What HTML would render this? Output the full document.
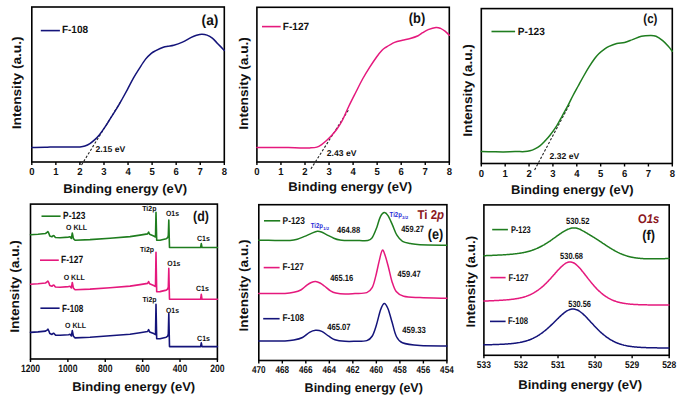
<!DOCTYPE html>
<html><head><meta charset="utf-8"><style>
html,body{margin:0;padding:0;background:#fff;}
body{width:685px;height:402px;overflow:hidden;}
svg{display:block;}
text{font-family:"Liberation Sans", sans-serif;text-rendering:geometricPrecision;}
</style></head><body>
<svg width="685" height="402" viewBox="0 0 685 402" font-family='"Liberation Sans", sans-serif'>
<rect width="685" height="402" fill="#fff"/>
<rect x="31.80" y="7.00" width="192.50" height="155.00" fill="none" stroke="#000" stroke-width="1.60"/>
<path d="M31.80,162.00v3.00M55.86,162.00v3.00M79.92,162.00v3.00M103.99,162.00v3.00M128.05,162.00v3.00M152.11,162.00v3.00M176.18,162.00v3.00M200.24,162.00v3.00M224.30,162.00v3.00" stroke="#000" stroke-width="1.40" fill="none"/>
<text x="31.80" y="175.20" font-size="10.10" font-weight="bold" font-style="normal" text-anchor="middle" fill="#111" textLength="5.30" lengthAdjust="spacingAndGlyphs">0</text>
<text x="55.86" y="175.20" font-size="10.10" font-weight="bold" font-style="normal" text-anchor="middle" fill="#111" textLength="5.30" lengthAdjust="spacingAndGlyphs">1</text>
<text x="79.92" y="175.20" font-size="10.10" font-weight="bold" font-style="normal" text-anchor="middle" fill="#111" textLength="5.30" lengthAdjust="spacingAndGlyphs">2</text>
<text x="103.99" y="175.20" font-size="10.10" font-weight="bold" font-style="normal" text-anchor="middle" fill="#111" textLength="5.30" lengthAdjust="spacingAndGlyphs">3</text>
<text x="128.05" y="175.20" font-size="10.10" font-weight="bold" font-style="normal" text-anchor="middle" fill="#111" textLength="5.30" lengthAdjust="spacingAndGlyphs">4</text>
<text x="152.11" y="175.20" font-size="10.10" font-weight="bold" font-style="normal" text-anchor="middle" fill="#111" textLength="5.30" lengthAdjust="spacingAndGlyphs">5</text>
<text x="176.18" y="175.20" font-size="10.10" font-weight="bold" font-style="normal" text-anchor="middle" fill="#111" textLength="5.30" lengthAdjust="spacingAndGlyphs">6</text>
<text x="200.24" y="175.20" font-size="10.10" font-weight="bold" font-style="normal" text-anchor="middle" fill="#111" textLength="5.30" lengthAdjust="spacingAndGlyphs">7</text>
<text x="224.30" y="175.20" font-size="10.10" font-weight="bold" font-style="normal" text-anchor="middle" fill="#111" textLength="5.30" lengthAdjust="spacingAndGlyphs">8</text>
<text x="63.30" y="192.60" font-size="12.60" font-weight="bold" font-style="normal" text-anchor="start" fill="#111" textLength="123.70" lengthAdjust="spacingAndGlyphs">Binding energy (eV)</text>
<text transform="translate(20.90,129.20) rotate(-90)" font-size="12.60" font-weight="bold" fill="#111" textLength="92.80" lengthAdjust="spacingAndGlyphs">Intensity (a.u.)</text>
<line x1="40.80" y1="30.60" x2="59.90" y2="30.60" stroke="#14147a" stroke-width="1.60"/>
<text x="61.90" y="33.40" font-size="10.50" font-weight="bold" font-style="normal" text-anchor="start" fill="#111" textLength="26.20" lengthAdjust="spacingAndGlyphs">F-108</text>
<text x="201.60" y="25.10" font-size="14.40" font-weight="bold" font-style="normal" text-anchor="start" fill="#111" textLength="16.80" lengthAdjust="spacingAndGlyphs">(a)</text>
<line x1="81.50" y1="165.00" x2="121.50" y2="100.30" stroke="#222" stroke-width="1.10" stroke-dasharray="2.4,1.8"/>
<path d="M31.80,147.40 C34.00,147.38 41.13,147.38 45.00,147.30 C48.87,147.22 51.67,146.93 55.00,146.90 C58.33,146.87 61.67,147.08 65.00,147.10 C68.33,147.12 72.52,147.03 75.00,147.00 C77.48,146.97 78.25,147.07 79.90,146.90 C81.55,146.73 83.23,146.55 84.90,146.00 C86.57,145.45 88.25,144.67 89.90,143.60 C91.55,142.53 93.23,141.03 94.80,139.60 C96.37,138.17 97.62,137.07 99.30,135.00 C100.98,132.93 102.93,130.15 104.90,127.20 C106.87,124.25 109.02,120.60 111.10,117.30 C113.18,114.00 115.55,110.45 117.40,107.40 C119.25,104.35 120.52,102.02 122.20,99.00 C123.88,95.98 125.63,92.78 127.50,89.30 C129.37,85.82 131.42,81.58 133.40,78.10 C135.38,74.62 137.40,71.52 139.40,68.40 C141.40,65.28 143.42,61.90 145.40,59.40 C147.38,56.90 149.57,54.85 151.30,53.40 C153.03,51.95 153.80,51.73 155.80,50.70 C157.80,49.67 161.27,47.95 163.30,47.20 C165.33,46.45 166.25,46.52 168.00,46.20 C169.75,45.88 171.38,45.98 173.80,45.30 C176.22,44.62 179.58,43.43 182.50,42.10 C185.42,40.77 188.97,38.43 191.30,37.30 C193.63,36.17 194.75,35.82 196.50,35.30 C198.25,34.78 200.05,34.23 201.80,34.20 C203.55,34.17 205.25,34.45 207.00,35.10 C208.75,35.75 210.55,36.72 212.30,38.10 C214.05,39.48 215.50,41.35 217.50,43.40 C219.50,45.45 223.17,49.23 224.30,50.40" fill="none" stroke="#14147a" stroke-width="1.50" stroke-linejoin="round" stroke-linecap="round"/>
<text x="95.50" y="152.20" font-size="8.50" font-weight="bold" font-style="normal" text-anchor="start" fill="#111" textLength="29.70" lengthAdjust="spacingAndGlyphs">2.15 eV</text>
<rect x="256.90" y="7.30" width="192.40" height="154.70" fill="none" stroke="#000" stroke-width="1.60"/>
<path d="M256.90,162.00v3.00M280.95,162.00v3.00M305.00,162.00v3.00M329.05,162.00v3.00M353.10,162.00v3.00M377.15,162.00v3.00M401.20,162.00v3.00M425.25,162.00v3.00M449.30,162.00v3.00" stroke="#000" stroke-width="1.40" fill="none"/>
<text x="256.90" y="175.00" font-size="10.10" font-weight="bold" font-style="normal" text-anchor="middle" fill="#111" textLength="5.30" lengthAdjust="spacingAndGlyphs">0</text>
<text x="280.95" y="175.00" font-size="10.10" font-weight="bold" font-style="normal" text-anchor="middle" fill="#111" textLength="5.30" lengthAdjust="spacingAndGlyphs">1</text>
<text x="305.00" y="175.00" font-size="10.10" font-weight="bold" font-style="normal" text-anchor="middle" fill="#111" textLength="5.30" lengthAdjust="spacingAndGlyphs">2</text>
<text x="329.05" y="175.00" font-size="10.10" font-weight="bold" font-style="normal" text-anchor="middle" fill="#111" textLength="5.30" lengthAdjust="spacingAndGlyphs">3</text>
<text x="353.10" y="175.00" font-size="10.10" font-weight="bold" font-style="normal" text-anchor="middle" fill="#111" textLength="5.30" lengthAdjust="spacingAndGlyphs">4</text>
<text x="377.15" y="175.00" font-size="10.10" font-weight="bold" font-style="normal" text-anchor="middle" fill="#111" textLength="5.30" lengthAdjust="spacingAndGlyphs">5</text>
<text x="401.20" y="175.00" font-size="10.10" font-weight="bold" font-style="normal" text-anchor="middle" fill="#111" textLength="5.30" lengthAdjust="spacingAndGlyphs">6</text>
<text x="425.25" y="175.00" font-size="10.10" font-weight="bold" font-style="normal" text-anchor="middle" fill="#111" textLength="5.30" lengthAdjust="spacingAndGlyphs">7</text>
<text x="449.30" y="175.00" font-size="10.10" font-weight="bold" font-style="normal" text-anchor="middle" fill="#111" textLength="5.30" lengthAdjust="spacingAndGlyphs">8</text>
<text x="288.30" y="190.90" font-size="12.60" font-weight="bold" font-style="normal" text-anchor="start" fill="#111" textLength="123.80" lengthAdjust="spacingAndGlyphs">Binding energy (eV)</text>
<text transform="translate(248.30,129.70) rotate(-90)" font-size="12.60" font-weight="bold" fill="#111" textLength="92.60" lengthAdjust="spacingAndGlyphs">Intensity (a.u.)</text>
<line x1="262.00" y1="26.60" x2="280.70" y2="26.60" stroke="#e5197d" stroke-width="1.60"/>
<text x="282.80" y="29.80" font-size="10.50" font-weight="bold" font-style="normal" text-anchor="start" fill="#111" textLength="26.30" lengthAdjust="spacingAndGlyphs">F-127</text>
<text x="408.80" y="22.90" font-size="14.40" font-weight="bold" font-style="normal" text-anchor="start" fill="#111" textLength="16.40" lengthAdjust="spacingAndGlyphs">(b)</text>
<line x1="310.90" y1="168.90" x2="348.50" y2="109.90" stroke="#222" stroke-width="1.10" stroke-dasharray="2.4,1.8"/>
<path d="M256.90,147.50 C259.42,147.52 266.77,147.58 272.00,147.60 C277.23,147.62 283.63,147.53 288.30,147.60 C292.97,147.67 296.40,147.95 300.00,148.00 C303.60,148.05 307.08,148.05 309.90,147.90 C312.72,147.75 314.90,147.70 316.90,147.10 C318.90,146.50 320.25,145.43 321.90,144.30 C323.55,143.17 325.15,141.82 326.80,140.30 C328.45,138.78 330.13,137.05 331.80,135.20 C333.47,133.35 335.10,131.57 336.80,129.20 C338.50,126.83 340.02,124.78 342.00,121.00 C343.98,117.22 346.42,111.25 348.70,106.50 C350.98,101.75 353.38,97.08 355.70,92.50 C358.02,87.92 360.28,83.18 362.60,79.00 C364.92,74.82 367.27,71.07 369.60,67.40 C371.93,63.73 374.57,59.82 376.60,57.00 C378.63,54.18 380.30,52.08 381.80,50.50 C383.30,48.92 383.47,48.85 385.60,47.50 C387.73,46.15 391.80,43.62 394.60,42.40 C397.40,41.18 399.80,40.85 402.40,40.20 C405.00,39.55 407.58,39.25 410.20,38.50 C412.82,37.75 416.03,36.67 418.10,35.70 C420.17,34.73 420.92,33.72 422.60,32.70 C424.28,31.68 425.97,30.47 428.20,29.60 C430.43,28.73 433.95,27.70 436.00,27.50 C438.05,27.30 439.00,27.78 440.50,28.40 C442.00,29.02 443.53,30.07 445.00,31.20 C446.47,32.33 448.58,34.53 449.30,35.20" fill="none" stroke="#e5197d" stroke-width="1.50" stroke-linejoin="round" stroke-linecap="round"/>
<text x="326.80" y="156.00" font-size="8.50" font-weight="bold" font-style="normal" text-anchor="start" fill="#111" textLength="29.60" lengthAdjust="spacingAndGlyphs">2.43 eV</text>
<rect x="481.30" y="8.60" width="191.00" height="154.90" fill="none" stroke="#000" stroke-width="1.60"/>
<path d="M481.30,163.50v3.00M505.18,163.50v3.00M529.05,163.50v3.00M552.92,163.50v3.00M576.80,163.50v3.00M600.67,163.50v3.00M624.55,163.50v3.00M648.42,163.50v3.00M672.30,163.50v3.00" stroke="#000" stroke-width="1.40" fill="none"/>
<text x="481.30" y="176.70" font-size="10.10" font-weight="bold" font-style="normal" text-anchor="middle" fill="#111" textLength="5.30" lengthAdjust="spacingAndGlyphs">0</text>
<text x="505.18" y="176.70" font-size="10.10" font-weight="bold" font-style="normal" text-anchor="middle" fill="#111" textLength="5.30" lengthAdjust="spacingAndGlyphs">1</text>
<text x="529.05" y="176.70" font-size="10.10" font-weight="bold" font-style="normal" text-anchor="middle" fill="#111" textLength="5.30" lengthAdjust="spacingAndGlyphs">2</text>
<text x="552.92" y="176.70" font-size="10.10" font-weight="bold" font-style="normal" text-anchor="middle" fill="#111" textLength="5.30" lengthAdjust="spacingAndGlyphs">3</text>
<text x="576.80" y="176.70" font-size="10.10" font-weight="bold" font-style="normal" text-anchor="middle" fill="#111" textLength="5.30" lengthAdjust="spacingAndGlyphs">4</text>
<text x="600.67" y="176.70" font-size="10.10" font-weight="bold" font-style="normal" text-anchor="middle" fill="#111" textLength="5.30" lengthAdjust="spacingAndGlyphs">5</text>
<text x="624.55" y="176.70" font-size="10.10" font-weight="bold" font-style="normal" text-anchor="middle" fill="#111" textLength="5.30" lengthAdjust="spacingAndGlyphs">6</text>
<text x="648.42" y="176.70" font-size="10.10" font-weight="bold" font-style="normal" text-anchor="middle" fill="#111" textLength="5.30" lengthAdjust="spacingAndGlyphs">7</text>
<text x="672.30" y="176.70" font-size="10.10" font-weight="bold" font-style="normal" text-anchor="middle" fill="#111" textLength="5.30" lengthAdjust="spacingAndGlyphs">8</text>
<text x="511.10" y="193.80" font-size="12.60" font-weight="bold" font-style="normal" text-anchor="start" fill="#111" textLength="122.60" lengthAdjust="spacingAndGlyphs">Binding energy (eV)</text>
<text transform="translate(471.80,136.70) rotate(-90)" font-size="12.60" font-weight="bold" fill="#111" textLength="92.60" lengthAdjust="spacingAndGlyphs">Intensity (a.u.)</text>
<line x1="491.50" y1="31.50" x2="515.10" y2="31.50" stroke="#1f7d1f" stroke-width="1.60"/>
<text x="517.80" y="35.40" font-size="10.50" font-weight="bold" font-style="normal" text-anchor="start" fill="#111" textLength="27.00" lengthAdjust="spacingAndGlyphs">P-123</text>
<text x="643.30" y="23.40" font-size="13.00" font-weight="bold" font-style="normal" text-anchor="start" fill="#111" textLength="14.10" lengthAdjust="spacingAndGlyphs">(c)</text>
<line x1="534.60" y1="170.00" x2="569.50" y2="104.40" stroke="#222" stroke-width="1.10" stroke-dasharray="2.4,1.8"/>
<path d="M481.30,151.50 C483.08,151.53 488.32,151.63 492.00,151.70 C495.68,151.77 499.57,151.92 503.40,151.90 C507.23,151.88 511.42,151.65 515.00,151.60 C518.58,151.55 522.42,151.73 524.90,151.60 C527.38,151.47 528.23,151.27 529.90,150.80 C531.57,150.33 533.23,149.63 534.90,148.80 C536.57,147.97 538.25,147.08 539.90,145.80 C541.55,144.52 543.15,142.82 544.80,141.10 C546.45,139.38 547.82,138.03 549.80,135.50 C551.78,132.97 554.62,129.18 556.70,125.90 C558.78,122.62 560.43,119.17 562.30,115.80 C564.17,112.43 566.12,109.08 567.90,105.70 C569.68,102.32 571.28,98.78 573.00,95.50 C574.72,92.22 576.42,89.25 578.20,86.00 C579.98,82.75 581.87,79.22 583.70,76.00 C585.53,72.78 587.37,69.62 589.20,66.70 C591.03,63.78 593.10,60.67 594.70,58.50 C596.30,56.33 597.22,55.22 598.80,53.70 C600.38,52.18 602.50,50.62 604.20,49.40 C605.90,48.18 606.90,47.38 609.00,46.40 C611.10,45.42 614.20,44.17 616.80,43.50 C619.40,42.83 621.98,43.05 624.60,42.40 C627.22,41.75 629.70,40.63 632.50,39.60 C635.30,38.57 638.42,36.90 641.40,36.20 C644.38,35.50 647.97,35.40 650.40,35.40 C652.83,35.40 653.95,35.32 656.00,36.20 C658.05,37.08 660.65,39.02 662.70,40.70 C664.75,42.38 666.70,44.53 668.30,46.30 C669.90,48.07 671.63,50.47 672.30,51.30" fill="none" stroke="#1f7d1f" stroke-width="1.50" stroke-linejoin="round" stroke-linecap="round"/>
<text x="549.60" y="158.90" font-size="8.50" font-weight="bold" font-style="normal" text-anchor="start" fill="#111" textLength="29.60" lengthAdjust="spacingAndGlyphs">2.32 eV</text>
<rect x="30.50" y="204.10" width="186.90" height="154.90" fill="none" stroke="#000" stroke-width="1.60"/>
<path d="M30.50,359.00v3.00M67.88,359.00v3.00M105.26,359.00v3.00M142.64,359.00v3.00M180.02,359.00v3.00M217.40,359.00v3.00" stroke="#000" stroke-width="1.40" fill="none"/>
<text x="30.50" y="372.30" font-size="10.60" font-weight="bold" font-style="normal" text-anchor="middle" fill="#111" textLength="19.20" lengthAdjust="spacingAndGlyphs">1200</text>
<text x="67.88" y="372.30" font-size="10.60" font-weight="bold" font-style="normal" text-anchor="middle" fill="#111" textLength="19.20" lengthAdjust="spacingAndGlyphs">1000</text>
<text x="105.26" y="372.30" font-size="10.60" font-weight="bold" font-style="normal" text-anchor="middle" fill="#111" textLength="14.40" lengthAdjust="spacingAndGlyphs">800</text>
<text x="142.64" y="372.30" font-size="10.60" font-weight="bold" font-style="normal" text-anchor="middle" fill="#111" textLength="14.40" lengthAdjust="spacingAndGlyphs">600</text>
<text x="180.02" y="372.30" font-size="10.60" font-weight="bold" font-style="normal" text-anchor="middle" fill="#111" textLength="14.40" lengthAdjust="spacingAndGlyphs">400</text>
<text x="217.40" y="372.30" font-size="10.60" font-weight="bold" font-style="normal" text-anchor="middle" fill="#111" textLength="14.40" lengthAdjust="spacingAndGlyphs">200</text>
<text x="72.20" y="391.00" font-size="12.60" font-weight="bold" font-style="normal" text-anchor="start" fill="#111" textLength="123.00" lengthAdjust="spacingAndGlyphs">Binding energy (eV)</text>
<text transform="translate(18.70,332.80) rotate(-90)" font-size="12.60" font-weight="bold" fill="#111" textLength="92.70" lengthAdjust="spacingAndGlyphs">Intensity (a.u.)</text>
<line x1="41.50" y1="216.20" x2="60.60" y2="216.20" stroke="#1f7d1f" stroke-width="1.60"/>
<text x="63.10" y="219.40" font-size="10.40" font-weight="bold" font-style="normal" text-anchor="start" fill="#111" textLength="22.30" lengthAdjust="spacingAndGlyphs">P-123</text>
<line x1="40.00" y1="260.20" x2="58.80" y2="260.20" stroke="#e5197d" stroke-width="1.60"/>
<text x="61.10" y="263.40" font-size="10.40" font-weight="bold" font-style="normal" text-anchor="start" fill="#111" textLength="22.00" lengthAdjust="spacingAndGlyphs">F-127</text>
<line x1="40.40" y1="308.20" x2="59.60" y2="308.20" stroke="#14147a" stroke-width="1.60"/>
<text x="62.10" y="311.60" font-size="10.40" font-weight="bold" font-style="normal" text-anchor="start" fill="#111" textLength="21.20" lengthAdjust="spacingAndGlyphs">F-108</text>
<text x="193.00" y="221.20" font-size="14.20" font-weight="bold" font-style="normal" text-anchor="start" fill="#111" textLength="15.90" lengthAdjust="spacingAndGlyphs">(d)</text>
<text x="66.10" y="230.30" font-size="7.60" font-weight="bold" font-style="normal" text-anchor="start" fill="#111" textLength="21.00" lengthAdjust="spacingAndGlyphs">O KLL</text>
<text x="142.20" y="211.30" font-size="7.40" font-weight="bold" font-style="normal" text-anchor="start" fill="#111" textLength="14.20" lengthAdjust="spacingAndGlyphs">Ti2p</text>
<text x="166.00" y="215.90" font-size="7.60" font-weight="bold" font-style="normal" text-anchor="start" fill="#111" textLength="13.00" lengthAdjust="spacingAndGlyphs">O1s</text>
<text x="196.90" y="241.10" font-size="7.60" font-weight="bold" font-style="normal" text-anchor="start" fill="#111" textLength="12.90" lengthAdjust="spacingAndGlyphs">C1s</text>
<text x="63.70" y="279.80" font-size="7.60" font-weight="bold" font-style="normal" text-anchor="start" fill="#111" textLength="21.00" lengthAdjust="spacingAndGlyphs">O KLL</text>
<text x="139.90" y="251.80" font-size="7.40" font-weight="bold" font-style="normal" text-anchor="start" fill="#111" textLength="14.20" lengthAdjust="spacingAndGlyphs">Ti2p</text>
<text x="167.30" y="266.20" font-size="7.60" font-weight="bold" font-style="normal" text-anchor="start" fill="#111" textLength="13.00" lengthAdjust="spacingAndGlyphs">O1s</text>
<text x="195.90" y="291.40" font-size="7.60" font-weight="bold" font-style="normal" text-anchor="start" fill="#111" textLength="12.90" lengthAdjust="spacingAndGlyphs">C1s</text>
<text x="65.10" y="327.90" font-size="7.60" font-weight="bold" font-style="normal" text-anchor="start" fill="#111" textLength="21.00" lengthAdjust="spacingAndGlyphs">O KLL</text>
<text x="142.40" y="301.80" font-size="7.40" font-weight="bold" font-style="normal" text-anchor="start" fill="#111" textLength="14.20" lengthAdjust="spacingAndGlyphs">Ti2p</text>
<text x="166.00" y="312.90" font-size="7.60" font-weight="bold" font-style="normal" text-anchor="start" fill="#111" textLength="13.00" lengthAdjust="spacingAndGlyphs">O1s</text>
<text x="197.10" y="340.80" font-size="7.60" font-weight="bold" font-style="normal" text-anchor="start" fill="#111" textLength="12.90" lengthAdjust="spacingAndGlyphs">C1s</text>
<path d="M30.50,234.80 L38.00,234.30 L45.50,233.50 L47.40,232.20 L47.90,231.60 L48.80,233.20 L49.80,236.00 L51.90,236.80 L53.20,235.70 L53.80,235.60 L55.40,237.50 L60.00,237.70 L68.50,237.10 L70.00,236.70 L71.40,238.40 L72.30,233.00 L73.40,238.60 L75.10,240.30 L90.00,239.60 L110.00,238.20 L130.00,236.60 L140.00,235.10 L147.60,233.90 L148.60,232.00 L149.60,234.30 L153.70,236.00 L155.50,237.00 L156.00,212.30 L156.70,240.30 L160.00,240.20 L166.30,238.70 L167.70,237.60 L168.30,235.50 L168.80,220.10 L169.50,247.50 L200.60,247.50 L201.30,243.60 L202.00,247.50 L217.40,247.50" fill="none" stroke="#1f7d1f" stroke-width="1.60" stroke-linejoin="round" stroke-linecap="round"/>
<path d="M30.50,284.30 L38.00,283.80 L45.50,283.00 L47.40,281.70 L47.90,281.10 L48.80,282.70 L49.80,285.50 L51.90,286.30 L53.20,285.20 L53.80,285.10 L55.40,287.00 L60.00,287.20 L68.50,286.60 L70.00,286.20 L71.40,287.90 L72.30,282.50 L73.40,288.10 L75.10,289.80 L90.00,289.10 L110.00,287.70 L130.00,286.10 L140.00,284.60 L147.60,283.40 L148.60,281.50 L149.60,283.80 L153.70,285.50 L155.50,286.50 L156.00,252.20 L156.70,291.70 L160.00,291.60 L166.30,290.10 L167.70,289.00 L168.30,286.90 L168.80,268.40 L169.50,299.30 L200.60,299.30 L201.30,294.40 L202.00,299.30 L217.40,299.30" fill="none" stroke="#e5197d" stroke-width="1.60" stroke-linejoin="round" stroke-linecap="round"/>
<path d="M30.50,332.40 L38.00,331.90 L45.50,331.10 L47.40,329.80 L47.90,329.20 L48.80,330.80 L49.80,333.60 L51.90,334.40 L53.20,333.30 L53.80,333.20 L55.40,335.10 L60.00,335.30 L68.50,334.70 L70.00,334.30 L71.40,336.00 L72.30,330.60 L73.40,336.20 L75.10,337.90 L90.00,337.20 L110.00,335.80 L130.00,334.20 L140.00,332.70 L147.60,331.50 L148.60,329.60 L149.60,331.90 L153.70,333.60 L155.50,334.60 L156.00,304.40 L156.70,338.80 L160.00,338.70 L166.30,337.20 L167.70,336.10 L168.30,334.00 L168.80,313.60 L169.50,346.60 L200.60,346.60 L201.30,342.80 L202.00,346.60 L217.40,346.60" fill="none" stroke="#14147a" stroke-width="1.60" stroke-linejoin="round" stroke-linecap="round"/>
<rect x="258.80" y="204.70" width="188.10" height="155.80" fill="none" stroke="#000" stroke-width="1.60"/>
<path d="M258.80,360.50v3.00M282.31,360.50v3.00M305.82,360.50v3.00M329.34,360.50v3.00M352.85,360.50v3.00M376.36,360.50v3.00M399.88,360.50v3.00M423.39,360.50v3.00M446.90,360.50v3.00" stroke="#000" stroke-width="1.40" fill="none"/>
<text x="258.80" y="372.70" font-size="10.00" font-weight="bold" font-style="normal" text-anchor="middle" fill="#111" textLength="13.60" lengthAdjust="spacingAndGlyphs">470</text>
<text x="282.31" y="372.70" font-size="10.00" font-weight="bold" font-style="normal" text-anchor="middle" fill="#111" textLength="13.60" lengthAdjust="spacingAndGlyphs">468</text>
<text x="305.82" y="372.70" font-size="10.00" font-weight="bold" font-style="normal" text-anchor="middle" fill="#111" textLength="13.60" lengthAdjust="spacingAndGlyphs">466</text>
<text x="329.34" y="372.70" font-size="10.00" font-weight="bold" font-style="normal" text-anchor="middle" fill="#111" textLength="13.60" lengthAdjust="spacingAndGlyphs">464</text>
<text x="352.85" y="372.70" font-size="10.00" font-weight="bold" font-style="normal" text-anchor="middle" fill="#111" textLength="13.60" lengthAdjust="spacingAndGlyphs">462</text>
<text x="376.36" y="372.70" font-size="10.00" font-weight="bold" font-style="normal" text-anchor="middle" fill="#111" textLength="13.60" lengthAdjust="spacingAndGlyphs">460</text>
<text x="399.88" y="372.70" font-size="10.00" font-weight="bold" font-style="normal" text-anchor="middle" fill="#111" textLength="13.60" lengthAdjust="spacingAndGlyphs">458</text>
<text x="423.39" y="372.70" font-size="10.00" font-weight="bold" font-style="normal" text-anchor="middle" fill="#111" textLength="13.60" lengthAdjust="spacingAndGlyphs">456</text>
<text x="446.90" y="372.70" font-size="10.00" font-weight="bold" font-style="normal" text-anchor="middle" fill="#111" textLength="13.60" lengthAdjust="spacingAndGlyphs">454</text>
<text x="304.60" y="391.80" font-size="12.60" font-weight="bold" font-style="normal" text-anchor="start" fill="#111" textLength="118.30" lengthAdjust="spacingAndGlyphs">Binding energy (eV)</text>
<text transform="translate(248.30,331.40) rotate(-90)" font-size="12.60" font-weight="bold" fill="#111" textLength="91.90" lengthAdjust="spacingAndGlyphs">Intensity (a.u.)</text>
<line x1="264.00" y1="220.80" x2="280.20" y2="220.80" stroke="#1f7d1f" stroke-width="1.60"/>
<text x="282.60" y="223.60" font-size="10.00" font-weight="bold" font-style="normal" text-anchor="start" fill="#111" textLength="22.20" lengthAdjust="spacingAndGlyphs">P-123</text>
<line x1="263.70" y1="267.60" x2="279.60" y2="267.60" stroke="#e5197d" stroke-width="1.60"/>
<text x="282.60" y="270.30" font-size="10.00" font-weight="bold" font-style="normal" text-anchor="start" fill="#111" textLength="21.20" lengthAdjust="spacingAndGlyphs">F-127</text>
<line x1="263.20" y1="318.70" x2="279.60" y2="318.70" stroke="#14147a" stroke-width="1.60"/>
<text x="282.60" y="321.00" font-size="10.00" font-weight="bold" font-style="normal" text-anchor="start" fill="#111" textLength="21.50" lengthAdjust="spacingAndGlyphs">F-108</text>
<text x="417.5" y="219" font-size="12.8" font-weight="bold" fill="#8b1620" textLength="26.6" lengthAdjust="spacingAndGlyphs">Ti 2<tspan font-style="italic">p</tspan></text>
<text x="427.70" y="239.40" font-size="14.20" font-weight="bold" font-style="normal" text-anchor="start" fill="#111" textLength="15.50" lengthAdjust="spacingAndGlyphs">(e)</text>
<text x="310.70" y="228.10" font-size="7.20" font-weight="bold" font-style="normal" text-anchor="start" fill="#2a2ad6" textLength="12.20" lengthAdjust="spacingAndGlyphs">Ti2p</text>
<text x="323.20" y="229.50" font-size="4.40" font-weight="bold" font-style="normal" text-anchor="start" fill="#2a2ad6" textLength="5.80" lengthAdjust="spacingAndGlyphs">1/2</text>
<text x="389.60" y="217.10" font-size="7.20" font-weight="bold" font-style="normal" text-anchor="start" fill="#2a2ad6" textLength="12.20" lengthAdjust="spacingAndGlyphs">Ti2p</text>
<text x="402.10" y="218.50" font-size="4.40" font-weight="bold" font-style="normal" text-anchor="start" fill="#2a2ad6" textLength="6.00" lengthAdjust="spacingAndGlyphs">3/2</text>
<text x="337.00" y="232.90" font-size="9.00" font-weight="bold" font-style="normal" text-anchor="start" fill="#111" textLength="23.20" lengthAdjust="spacingAndGlyphs">464.88</text>
<text x="401.20" y="231.90" font-size="9.00" font-weight="bold" font-style="normal" text-anchor="start" fill="#111" textLength="22.80" lengthAdjust="spacingAndGlyphs">459.27</text>
<text x="330.20" y="281.20" font-size="9.00" font-weight="bold" font-style="normal" text-anchor="start" fill="#111" textLength="23.00" lengthAdjust="spacingAndGlyphs">465.16</text>
<text x="397.60" y="276.90" font-size="9.00" font-weight="bold" font-style="normal" text-anchor="start" fill="#111" textLength="23.00" lengthAdjust="spacingAndGlyphs">459.47</text>
<text x="327.20" y="330.00" font-size="9.00" font-weight="bold" font-style="normal" text-anchor="start" fill="#111" textLength="23.40" lengthAdjust="spacingAndGlyphs">465.07</text>
<text x="402.20" y="333.00" font-size="9.00" font-weight="bold" font-style="normal" text-anchor="start" fill="#111" textLength="23.60" lengthAdjust="spacingAndGlyphs">459.33</text>
<path d="M258.80,240.30 C261.50,240.32 269.80,240.38 275.00,240.40 C280.20,240.42 286.28,240.58 290.00,240.40 C293.72,240.22 294.87,239.97 297.30,239.30 C299.73,238.63 302.17,237.43 304.60,236.40 C307.03,235.37 309.77,233.95 311.90,233.10 C314.03,232.25 315.82,231.48 317.40,231.30 C318.98,231.12 319.88,231.45 321.40,232.00 C322.92,232.55 324.43,233.57 326.50,234.60 C328.57,235.63 331.55,237.28 333.80,238.20 C336.05,239.12 338.13,239.72 340.00,240.10 C341.87,240.48 342.50,240.45 345.00,240.50 C347.50,240.55 351.20,240.38 355.00,240.40 C358.80,240.42 364.92,241.08 367.80,240.60 C370.68,240.12 370.80,239.70 372.30,237.50 C373.80,235.30 375.50,230.77 376.80,227.40 C378.10,224.03 378.88,219.77 380.10,217.30 C381.32,214.83 382.78,212.88 384.10,212.60 C385.42,212.32 386.60,213.52 388.00,215.60 C389.40,217.68 391.02,221.83 392.50,225.10 C393.98,228.37 395.23,232.48 396.90,235.20 C398.57,237.92 400.25,240.00 402.50,241.40 C404.75,242.80 407.48,243.05 410.40,243.60 C413.32,244.15 413.92,244.43 420.00,244.70 C426.08,244.97 442.42,245.12 446.90,245.20" fill="none" stroke="#1f7d1f" stroke-width="1.50" stroke-linejoin="round" stroke-linecap="round"/>
<path d="M258.80,293.60 C261.50,293.60 270.63,293.62 275.00,293.60 C279.37,293.58 281.87,293.72 285.00,293.50 C288.13,293.28 291.17,292.88 293.80,292.30 C296.43,291.72 298.62,291.20 300.80,290.00 C302.98,288.80 305.15,286.35 306.90,285.10 C308.65,283.85 309.85,283.08 311.30,282.50 C312.75,281.92 314.15,281.52 315.60,281.60 C317.05,281.68 318.53,282.27 320.00,283.00 C321.47,283.73 322.65,284.70 324.40,286.00 C326.15,287.30 328.60,289.63 330.50,290.80 C332.40,291.97 333.38,292.45 335.80,293.00 C338.22,293.55 341.80,294.00 345.00,294.10 C348.20,294.20 351.37,293.85 355.00,293.60 C358.63,293.35 363.92,293.63 366.80,292.60 C369.68,291.57 370.82,290.10 372.30,287.40 C373.78,284.70 374.57,280.73 375.70,276.40 C376.83,272.07 378.00,265.77 379.10,261.40 C380.20,257.03 381.27,251.12 382.30,250.20 C383.33,249.28 384.23,252.90 385.30,255.90 C386.37,258.90 387.57,263.87 388.70,268.20 C389.83,272.53 390.85,278.02 392.10,281.90 C393.35,285.78 394.27,289.10 396.20,291.50 C398.13,293.90 399.73,295.28 403.70,296.30 C407.67,297.32 412.80,297.27 420.00,297.60 C427.20,297.93 442.42,298.18 446.90,298.30" fill="none" stroke="#e5197d" stroke-width="1.50" stroke-linejoin="round" stroke-linecap="round"/>
<path d="M258.80,341.00 C261.50,341.00 270.63,341.00 275.00,341.00 C279.37,341.00 281.87,341.15 285.00,341.00 C288.13,340.85 290.88,340.68 293.80,340.10 C296.72,339.52 299.88,338.80 302.50,337.50 C305.12,336.20 307.32,333.50 309.50,332.30 C311.68,331.10 313.55,330.45 315.60,330.30 C317.65,330.15 319.60,330.42 321.80,331.40 C324.00,332.38 326.62,334.82 328.80,336.20 C330.98,337.58 332.20,338.85 334.90,339.70 C337.60,340.55 341.65,341.03 345.00,341.30 C348.35,341.57 351.37,341.42 355.00,341.30 C358.63,341.18 363.92,341.48 366.80,340.60 C369.68,339.72 370.70,338.58 372.30,336.00 C373.90,333.42 375.03,329.43 376.40,325.10 C377.77,320.77 379.20,313.60 380.50,310.00 C381.80,306.40 382.95,303.72 384.20,303.50 C385.45,303.28 386.68,305.57 388.00,308.70 C389.32,311.83 390.73,317.75 392.10,322.30 C393.47,326.85 394.48,332.58 396.20,336.00 C397.92,339.42 398.43,341.20 402.40,342.80 C406.37,344.40 412.58,345.07 420.00,345.60 C427.42,346.13 442.42,345.93 446.90,346.00" fill="none" stroke="#14147a" stroke-width="1.50" stroke-linejoin="round" stroke-linecap="round"/>
<rect x="483.90" y="204.90" width="185.30" height="150.40" fill="none" stroke="#000" stroke-width="1.60"/>
<path d="M483.90,355.30v3.00M520.96,355.30v3.00M558.02,355.30v3.00M595.08,355.30v3.00M632.14,355.30v3.00M669.20,355.30v3.00" stroke="#000" stroke-width="1.40" fill="none"/>
<text x="483.90" y="367.90" font-size="9.80" font-weight="bold" font-style="normal" text-anchor="middle" fill="#111" textLength="14.10" lengthAdjust="spacingAndGlyphs">533</text>
<text x="520.96" y="367.90" font-size="9.80" font-weight="bold" font-style="normal" text-anchor="middle" fill="#111" textLength="14.10" lengthAdjust="spacingAndGlyphs">532</text>
<text x="558.02" y="367.90" font-size="9.80" font-weight="bold" font-style="normal" text-anchor="middle" fill="#111" textLength="14.10" lengthAdjust="spacingAndGlyphs">531</text>
<text x="595.08" y="367.90" font-size="9.80" font-weight="bold" font-style="normal" text-anchor="middle" fill="#111" textLength="14.10" lengthAdjust="spacingAndGlyphs">530</text>
<text x="632.14" y="367.90" font-size="9.80" font-weight="bold" font-style="normal" text-anchor="middle" fill="#111" textLength="14.10" lengthAdjust="spacingAndGlyphs">529</text>
<text x="669.20" y="367.90" font-size="9.80" font-weight="bold" font-style="normal" text-anchor="middle" fill="#111" textLength="14.10" lengthAdjust="spacingAndGlyphs">528</text>
<text x="518.20" y="389.00" font-size="12.60" font-weight="bold" font-style="normal" text-anchor="start" fill="#111" textLength="124.00" lengthAdjust="spacingAndGlyphs">Binding energy (eV)</text>
<text transform="translate(475.10,327.50) rotate(-90)" font-size="12.60" font-weight="bold" fill="#111" textLength="91.70" lengthAdjust="spacingAndGlyphs">Intensity (a.u.)</text>
<line x1="492.20" y1="229.60" x2="507.90" y2="229.60" stroke="#1f7d1f" stroke-width="1.60"/>
<text x="510.90" y="232.50" font-size="9.80" font-weight="bold" font-style="normal" text-anchor="start" fill="#111" textLength="19.70" lengthAdjust="spacingAndGlyphs">P-123</text>
<line x1="490.30" y1="277.60" x2="505.60" y2="277.60" stroke="#e5197d" stroke-width="1.60"/>
<text x="508.60" y="280.50" font-size="9.80" font-weight="bold" font-style="normal" text-anchor="start" fill="#111" textLength="19.90" lengthAdjust="spacingAndGlyphs">F-127</text>
<line x1="490.00" y1="321.40" x2="505.60" y2="321.40" stroke="#14147a" stroke-width="1.60"/>
<text x="507.90" y="324.30" font-size="9.80" font-weight="bold" font-style="normal" text-anchor="start" fill="#111" textLength="20.10" lengthAdjust="spacingAndGlyphs">F-108</text>
<text x="638" y="223.4" font-size="12.6" font-weight="bold" fill="#8b1620" textLength="21.4" lengthAdjust="spacingAndGlyphs">O<tspan font-style="italic">1s</tspan></text>
<text x="642.20" y="240.20" font-size="14.00" font-weight="bold" font-style="normal" text-anchor="start" fill="#111" textLength="12.80" lengthAdjust="spacingAndGlyphs">(f)</text>
<text x="566.10" y="224.30" font-size="9.00" font-weight="bold" font-style="normal" text-anchor="start" fill="#111" textLength="23.30" lengthAdjust="spacingAndGlyphs">530.52</text>
<text x="560.10" y="259.00" font-size="9.00" font-weight="bold" font-style="normal" text-anchor="start" fill="#111" textLength="22.90" lengthAdjust="spacingAndGlyphs">530.68</text>
<text x="568.30" y="306.70" font-size="9.00" font-weight="bold" font-style="normal" text-anchor="start" fill="#111" textLength="22.60" lengthAdjust="spacingAndGlyphs">530.56</text>
<path d="M483.90,255.72 C484.07,255.72 484.57,255.69 484.90,255.68 C485.23,255.67 485.57,255.65 485.90,255.64 C486.23,255.63 486.57,255.61 486.90,255.60 C487.23,255.59 487.57,255.57 487.90,255.56 C488.23,255.54 488.57,255.53 488.90,255.52 C489.23,255.50 489.57,255.49 489.90,255.48 C490.23,255.46 490.57,255.45 490.90,255.43 C491.23,255.42 491.57,255.40 491.90,255.39 C492.23,255.37 492.57,255.36 492.90,255.35 C493.23,255.33 493.57,255.32 493.90,255.30 C494.23,255.29 494.57,255.27 494.90,255.26 C495.23,255.24 495.57,255.22 495.90,255.21 C496.23,255.19 496.57,255.18 496.90,255.16 C497.23,255.15 497.57,255.13 497.90,255.11 C498.23,255.10 498.57,255.08 498.90,255.06 C499.23,255.05 499.57,255.03 499.90,255.01 C500.23,254.99 500.57,254.98 500.90,254.96 C501.23,254.94 501.57,254.92 501.90,254.90 C502.23,254.88 502.57,254.86 502.90,254.85 C503.23,254.83 503.57,254.81 503.90,254.79 C504.23,254.77 504.57,254.74 504.90,254.72 C505.23,254.70 505.57,254.68 505.90,254.66 C506.23,254.64 506.57,254.61 506.90,254.59 C507.23,254.57 507.57,254.54 507.90,254.52 C508.23,254.49 508.57,254.47 508.90,254.44 C509.23,254.41 509.57,254.39 509.90,254.36 C510.23,254.33 510.57,254.30 510.90,254.27 C511.23,254.24 511.57,254.21 511.90,254.18 C512.23,254.15 512.57,254.12 512.90,254.09 C513.23,254.05 513.57,254.02 513.90,253.98 C514.23,253.95 514.57,253.91 514.90,253.87 C515.23,253.84 515.57,253.80 515.90,253.76 C516.23,253.72 516.57,253.67 516.90,253.63 C517.23,253.59 517.57,253.54 517.90,253.50 C518.23,253.45 518.57,253.40 518.90,253.36 C519.23,253.31 519.57,253.26 519.90,253.20 C520.23,253.15 520.57,253.10 520.90,253.04 C521.23,252.98 521.57,252.93 521.90,252.87 C522.23,252.81 522.57,252.74 522.90,252.68 C523.23,252.62 523.57,252.55 523.90,252.48 C524.23,252.41 524.57,252.34 524.90,252.27 C525.23,252.20 525.57,252.12 525.90,252.04 C526.23,251.96 526.57,251.88 526.90,251.80 C527.23,251.72 527.57,251.63 527.90,251.54 C528.23,251.45 528.57,251.36 528.90,251.27 C529.23,251.18 529.57,251.08 529.90,250.98 C530.23,250.88 530.57,250.78 530.90,250.67 C531.23,250.57 531.57,250.46 531.90,250.34 C532.23,250.23 532.57,250.12 532.90,250.00 C533.23,249.88 533.57,249.76 533.90,249.63 C534.23,249.51 534.57,249.38 534.90,249.25 C535.23,249.12 535.57,248.98 535.90,248.84 C536.23,248.70 536.57,248.56 536.90,248.42 C537.23,248.27 537.57,248.12 537.90,247.97 C538.23,247.82 538.57,247.66 538.90,247.50 C539.23,247.34 539.57,247.18 539.90,247.01 C540.23,246.85 540.57,246.68 540.90,246.50 C541.23,246.33 541.57,246.15 541.90,245.97 C542.23,245.79 542.57,245.61 542.90,245.42 C543.23,245.23 543.57,245.04 543.90,244.85 C544.23,244.65 544.57,244.46 544.90,244.26 C545.23,244.06 545.57,243.85 545.90,243.65 C546.23,243.44 546.57,243.23 546.90,243.02 C547.23,242.81 547.57,242.59 547.90,242.38 C548.23,242.16 548.57,241.94 548.90,241.72 C549.23,241.49 549.57,241.27 549.90,241.04 C550.23,240.81 550.57,240.59 550.90,240.35 C551.23,240.12 551.57,239.89 551.90,239.66 C552.23,239.42 552.57,239.19 552.90,238.95 C553.23,238.72 553.57,238.48 553.90,238.24 C554.23,238.00 554.57,237.76 554.90,237.52 C555.23,237.28 555.57,237.04 555.90,236.81 C556.23,236.57 556.57,236.33 556.90,236.09 C557.23,235.85 557.57,235.61 557.90,235.37 C558.23,235.14 558.57,234.90 558.90,234.67 C559.23,234.44 559.57,234.20 559.90,233.97 C560.23,233.74 560.57,233.52 560.90,233.29 C561.23,233.07 561.57,232.85 561.90,232.63 C562.23,232.41 562.57,232.20 562.90,231.99 C563.23,231.78 563.57,231.58 563.90,231.38 C564.23,231.18 564.57,230.98 564.90,230.79 C565.23,230.61 565.57,230.42 565.90,230.25 C566.23,230.07 566.57,229.91 566.90,229.75 C567.23,229.59 567.57,229.43 567.90,229.29 C568.23,229.15 568.57,229.01 568.90,228.89 C569.23,228.76 569.57,228.65 569.90,228.55 C570.23,228.44 570.57,228.35 570.90,228.27 C571.23,228.19 571.57,228.12 571.90,228.06 C572.23,228.01 572.57,227.96 572.90,227.93 C573.23,227.90 573.57,227.89 573.90,227.89 C574.23,227.88 574.57,227.90 574.90,227.92 C575.23,227.95 575.57,227.99 575.90,228.04 C576.23,228.10 576.57,228.16 576.90,228.24 C577.23,228.33 577.57,228.42 577.90,228.53 C578.23,228.63 578.57,228.75 578.90,228.88 C579.23,229.01 579.57,229.15 579.90,229.30 C580.23,229.45 580.57,229.61 580.90,229.78 C581.23,229.94 581.57,230.12 581.90,230.30 C582.23,230.47 582.57,230.66 582.90,230.85 C583.23,231.03 583.57,231.22 583.90,231.42 C584.23,231.61 584.57,231.81 584.90,232.00 C585.23,232.20 585.57,232.40 585.90,232.60 C586.23,232.79 586.57,232.99 586.90,233.19 C587.23,233.39 587.57,233.59 587.90,233.79 C588.23,233.99 588.57,234.19 588.90,234.39 C589.23,234.59 589.57,234.79 589.90,234.99 C590.23,235.19 590.57,235.39 590.90,235.59 C591.23,235.79 591.57,235.99 591.90,236.20 C592.23,236.40 592.57,236.60 592.90,236.81 C593.23,237.01 593.57,237.22 593.90,237.42 C594.23,237.63 594.57,237.84 594.90,238.05 C595.23,238.26 595.57,238.47 595.90,238.68 C596.23,238.89 596.57,239.10 596.90,239.32 C597.23,239.53 597.57,239.75 597.90,239.96 C598.23,240.18 598.57,240.40 598.90,240.62 C599.23,240.84 599.57,241.06 599.90,241.28 C600.23,241.50 600.57,241.72 600.90,241.94 C601.23,242.16 601.57,242.38 601.90,242.61 C602.23,242.83 602.57,243.05 602.90,243.28 C603.23,243.50 603.57,243.72 603.90,243.94 C604.23,244.17 604.57,244.39 604.90,244.61 C605.23,244.83 605.57,245.06 605.90,245.28 C606.23,245.50 606.57,245.72 606.90,245.93 C607.23,246.15 607.57,246.37 607.90,246.59 C608.23,246.80 608.57,247.02 608.90,247.23 C609.23,247.44 609.57,247.65 609.90,247.86 C610.23,248.07 610.57,248.27 610.90,248.48 C611.23,248.68 611.57,248.89 611.90,249.08 C612.23,249.28 612.57,249.48 612.90,249.68 C613.23,249.87 613.57,250.06 613.90,250.25 C614.23,250.44 614.57,250.63 614.90,250.81 C615.23,250.99 615.57,251.17 615.90,251.35 C616.23,251.52 616.57,251.70 616.90,251.87 C617.23,252.04 617.57,252.20 617.90,252.37 C618.23,252.53 618.57,252.69 618.90,252.85 C619.23,253.00 619.57,253.16 619.90,253.31 C620.23,253.46 620.57,253.60 620.90,253.74 C621.23,253.89 621.57,254.03 621.90,254.16 C622.23,254.30 622.57,254.43 622.90,254.56 C623.23,254.69 623.57,254.81 623.90,254.93 C624.23,255.05 624.57,255.17 624.90,255.29 C625.23,255.40 625.57,255.51 625.90,255.62 C626.23,255.73 626.57,255.83 626.90,255.93 C627.23,256.03 627.57,256.13 627.90,256.22 C628.23,256.32 628.57,256.41 628.90,256.49 C629.23,256.58 629.57,256.67 629.90,256.75 C630.23,256.83 630.57,256.91 630.90,256.98 C631.23,257.06 631.57,257.13 631.90,257.20 C632.23,257.27 632.57,257.33 632.90,257.40 C633.23,257.46 633.57,257.52 633.90,257.58 C634.23,257.64 634.57,257.69 634.90,257.75 C635.23,257.80 635.57,257.85 635.90,257.90 C636.23,257.95 636.57,257.99 636.90,258.04 C637.23,258.08 637.57,258.12 637.90,258.16 C638.23,258.20 638.57,258.24 638.90,258.27 C639.23,258.31 639.57,258.34 639.90,258.37 C640.23,258.40 640.57,258.43 640.90,258.46 C641.23,258.49 641.57,258.51 641.90,258.54 C642.23,258.56 642.57,258.58 642.90,258.60 C643.23,258.63 643.57,258.64 643.90,258.66 C644.23,258.68 644.57,258.70 644.90,258.71 C645.23,258.73 645.57,258.74 645.90,258.75 C646.23,258.76 646.57,258.78 646.90,258.79 C647.23,258.80 647.57,258.80 647.90,258.81 C648.23,258.82 648.57,258.83 648.90,258.83 C649.23,258.84 649.57,258.84 649.90,258.85 C650.23,258.85 650.57,258.85 650.90,258.86 C651.23,258.86 651.57,258.86 651.90,258.86 C652.23,258.86 652.57,258.86 652.90,258.86 C653.23,258.86 653.57,258.86 653.90,258.86 C654.23,258.85 654.57,258.85 654.90,258.85 C655.23,258.84 655.57,258.84 655.90,258.84 C656.23,258.83 656.57,258.83 656.90,258.82 C657.23,258.82 657.57,258.81 657.90,258.80 C658.23,258.80 658.57,258.79 658.90,258.78 C659.23,258.78 659.57,258.77 659.90,258.76 C660.23,258.76 660.57,258.75 660.90,258.74 C661.23,258.73 661.57,258.72 661.90,258.71 C662.23,258.70 662.57,258.70 662.90,258.69 C663.23,258.68 663.57,258.67 663.90,258.66 C664.23,258.65 664.57,258.64 664.90,258.63 C665.23,258.62 665.57,258.61 665.90,258.60 C666.23,258.59 666.57,258.57 666.90,258.56 C667.23,258.55 667.57,258.54 667.90,258.53 C668.23,258.52 668.73,258.50 668.90,258.50" fill="none" stroke="#1f7d1f" stroke-width="1.50" stroke-linejoin="round" stroke-linecap="round"/>
<path d="M483.90,301.05 C484.07,301.05 484.57,301.03 484.90,301.02 C485.23,301.00 485.57,300.99 485.90,300.98 C486.23,300.97 486.57,300.95 486.90,300.94 C487.23,300.93 487.57,300.91 487.90,300.90 C488.23,300.89 488.57,300.87 488.90,300.86 C489.23,300.85 489.57,300.83 489.90,300.82 C490.23,300.81 490.57,300.79 490.90,300.78 C491.23,300.76 491.57,300.75 491.90,300.73 C492.23,300.72 492.57,300.70 492.90,300.69 C493.23,300.67 493.57,300.66 493.90,300.64 C494.23,300.63 494.57,300.61 494.90,300.60 C495.23,300.58 495.57,300.56 495.90,300.55 C496.23,300.53 496.57,300.51 496.90,300.49 C497.23,300.48 497.57,300.46 497.90,300.44 C498.23,300.42 498.57,300.41 498.90,300.39 C499.23,300.37 499.57,300.35 499.90,300.33 C500.23,300.31 500.57,300.29 500.90,300.27 C501.23,300.25 501.57,300.23 501.90,300.21 C502.23,300.18 502.57,300.16 502.90,300.14 C503.23,300.12 503.57,300.09 503.90,300.07 C504.23,300.05 504.57,300.02 504.90,300.00 C505.23,299.97 505.57,299.94 505.90,299.92 C506.23,299.89 506.57,299.86 506.90,299.83 C507.23,299.81 507.57,299.78 507.90,299.75 C508.23,299.72 508.57,299.68 508.90,299.65 C509.23,299.62 509.57,299.59 509.90,299.55 C510.23,299.52 510.57,299.48 510.90,299.44 C511.23,299.41 511.57,299.37 511.90,299.33 C512.23,299.29 512.57,299.25 512.90,299.21 C513.23,299.16 513.57,299.12 513.90,299.07 C514.23,299.03 514.57,298.98 514.90,298.93 C515.23,298.88 515.57,298.83 515.90,298.78 C516.23,298.72 516.57,298.67 516.90,298.61 C517.23,298.55 517.57,298.50 517.90,298.43 C518.23,298.37 518.57,298.31 518.90,298.24 C519.23,298.17 519.57,298.10 519.90,298.03 C520.23,297.96 520.57,297.89 520.90,297.81 C521.23,297.73 521.57,297.65 521.90,297.57 C522.23,297.48 522.57,297.40 522.90,297.31 C523.23,297.21 523.57,297.12 523.90,297.02 C524.23,296.93 524.57,296.83 524.90,296.72 C525.23,296.62 525.57,296.51 525.90,296.40 C526.23,296.28 526.57,296.17 526.90,296.05 C527.23,295.92 527.57,295.80 527.90,295.67 C528.23,295.54 528.57,295.41 528.90,295.27 C529.23,295.13 529.57,294.99 529.90,294.84 C530.23,294.69 530.57,294.54 530.90,294.38 C531.23,294.22 531.57,294.06 531.90,293.89 C532.23,293.72 532.57,293.54 532.90,293.37 C533.23,293.19 533.57,293.00 533.90,292.81 C534.23,292.62 534.57,292.42 534.90,292.22 C535.23,292.02 535.57,291.81 535.90,291.60 C536.23,291.39 536.57,291.17 536.90,290.94 C537.23,290.72 537.57,290.48 537.90,290.25 C538.23,290.01 538.57,289.77 538.90,289.52 C539.23,289.27 539.57,289.01 539.90,288.75 C540.23,288.49 540.57,288.23 540.90,287.95 C541.23,287.68 541.57,287.40 541.90,287.12 C542.23,286.83 542.57,286.54 542.90,286.24 C543.23,285.95 543.57,285.65 543.90,285.34 C544.23,285.03 544.57,284.72 544.90,284.40 C545.23,284.08 545.57,283.76 545.90,283.43 C546.23,283.10 546.57,282.77 546.90,282.43 C547.23,282.09 547.57,281.75 547.90,281.40 C548.23,281.05 548.57,280.70 548.90,280.35 C549.23,279.99 549.57,279.63 549.90,279.27 C550.23,278.91 550.57,278.54 550.90,278.17 C551.23,277.80 551.57,277.43 551.90,277.06 C552.23,276.68 552.57,276.31 552.90,275.93 C553.23,275.55 553.57,275.17 553.90,274.79 C554.23,274.42 554.57,274.04 554.90,273.66 C555.23,273.28 555.57,272.90 555.90,272.52 C556.23,272.14 556.57,271.77 556.90,271.40 C557.23,271.02 557.57,270.65 557.90,270.29 C558.23,269.92 558.57,269.56 558.90,269.20 C559.23,268.85 559.57,268.50 559.90,268.15 C560.23,267.81 560.57,267.47 560.90,267.15 C561.23,266.82 561.57,266.50 561.90,266.20 C562.23,265.89 562.57,265.59 562.90,265.31 C563.23,265.03 563.57,264.76 563.90,264.51 C564.23,264.25 564.57,264.01 564.90,263.79 C565.23,263.57 565.57,263.37 565.90,263.18 C566.23,263.00 566.57,262.83 566.90,262.68 C567.23,262.54 567.57,262.41 567.90,262.31 C568.23,262.21 568.57,262.13 568.90,262.07 C569.23,262.02 569.57,261.99 569.90,261.98 C570.23,261.97 570.57,261.99 570.90,262.03 C571.23,262.07 571.57,262.13 571.90,262.22 C572.23,262.31 572.57,262.42 572.90,262.56 C573.23,262.69 573.57,262.85 573.90,263.03 C574.23,263.21 574.57,263.42 574.90,263.64 C575.23,263.86 575.57,264.11 575.90,264.37 C576.23,264.64 576.57,264.92 576.90,265.22 C577.23,265.51 577.57,265.83 577.90,266.16 C578.23,266.49 578.57,266.83 578.90,267.19 C579.23,267.54 579.57,267.91 579.90,268.29 C580.23,268.66 580.57,269.05 580.90,269.45 C581.23,269.84 581.57,270.25 581.90,270.66 C582.23,271.06 582.57,271.48 582.90,271.90 C583.23,272.32 583.57,272.75 583.90,273.17 C584.23,273.60 584.57,274.03 584.90,274.46 C585.23,274.89 585.57,275.32 585.90,275.76 C586.23,276.19 586.57,276.62 586.90,277.05 C587.23,277.48 587.57,277.91 587.90,278.34 C588.23,278.77 588.57,279.20 588.90,279.62 C589.23,280.04 589.57,280.46 589.90,280.88 C590.23,281.30 590.57,281.71 590.90,282.12 C591.23,282.53 591.57,282.93 591.90,283.33 C592.23,283.73 592.57,284.13 592.90,284.52 C593.23,284.91 593.57,285.29 593.90,285.67 C594.23,286.05 594.57,286.42 594.90,286.79 C595.23,287.16 595.57,287.52 595.90,287.87 C596.23,288.23 596.57,288.58 596.90,288.92 C597.23,289.26 597.57,289.60 597.90,289.93 C598.23,290.26 598.57,290.58 598.90,290.90 C599.23,291.21 599.57,291.52 599.90,291.82 C600.23,292.13 600.57,292.42 600.90,292.71 C601.23,293.00 601.57,293.28 601.90,293.56 C602.23,293.83 602.57,294.10 602.90,294.36 C603.23,294.62 603.57,294.88 603.90,295.12 C604.23,295.37 604.57,295.61 604.90,295.85 C605.23,296.08 605.57,296.31 605.90,296.53 C606.23,296.75 606.57,296.97 606.90,297.17 C607.23,297.38 607.57,297.59 607.90,297.78 C608.23,297.98 608.57,298.17 608.90,298.35 C609.23,298.53 609.57,298.71 609.90,298.88 C610.23,299.05 610.57,299.22 610.90,299.38 C611.23,299.54 611.57,299.69 611.90,299.84 C612.23,299.99 612.57,300.14 612.90,300.28 C613.23,300.42 613.57,300.55 613.90,300.68 C614.23,300.81 614.57,300.93 614.90,301.05 C615.23,301.17 615.57,301.28 615.90,301.39 C616.23,301.50 616.57,301.61 616.90,301.71 C617.23,301.81 617.57,301.91 617.90,302.00 C618.23,302.10 618.57,302.19 618.90,302.27 C619.23,302.36 619.57,302.44 619.90,302.52 C620.23,302.60 620.57,302.68 620.90,302.75 C621.23,302.82 621.57,302.89 621.90,302.96 C622.23,303.02 622.57,303.09 622.90,303.15 C623.23,303.21 623.57,303.27 623.90,303.32 C624.23,303.38 624.57,303.43 624.90,303.48 C625.23,303.53 625.57,303.58 625.90,303.63 C626.23,303.67 626.57,303.72 626.90,303.76 C627.23,303.80 627.57,303.84 627.90,303.88 C628.23,303.92 628.57,303.95 628.90,303.99 C629.23,304.02 629.57,304.05 629.90,304.09 C630.23,304.12 630.57,304.15 630.90,304.18 C631.23,304.20 631.57,304.23 631.90,304.26 C632.23,304.28 632.57,304.31 632.90,304.33 C633.23,304.36 633.57,304.38 633.90,304.40 C634.23,304.42 634.57,304.44 634.90,304.46 C635.23,304.48 635.57,304.50 635.90,304.51 C636.23,304.53 636.57,304.55 636.90,304.56 C637.23,304.58 637.57,304.60 637.90,304.61 C638.23,304.62 638.57,304.64 638.90,304.65 C639.23,304.66 639.57,304.68 639.90,304.69 C640.23,304.70 640.57,304.71 640.90,304.72 C641.23,304.73 641.57,304.74 641.90,304.75 C642.23,304.76 642.57,304.77 642.90,304.78 C643.23,304.79 643.57,304.80 643.90,304.80 C644.23,304.81 644.57,304.82 644.90,304.83 C645.23,304.83 645.57,304.84 645.90,304.85 C646.23,304.85 646.57,304.86 646.90,304.87 C647.23,304.87 647.57,304.88 647.90,304.88 C648.23,304.89 648.57,304.89 648.90,304.90 C649.23,304.90 649.57,304.91 649.90,304.91 C650.23,304.92 650.57,304.92 650.90,304.92 C651.23,304.93 651.57,304.93 651.90,304.94 C652.23,304.94 652.57,304.94 652.90,304.95 C653.23,304.95 653.57,304.95 653.90,304.95 C654.23,304.96 654.57,304.96 654.90,304.96 C655.23,304.96 655.57,304.97 655.90,304.97 C656.23,304.97 656.57,304.97 656.90,304.97 C657.23,304.98 657.57,304.98 657.90,304.98 C658.23,304.98 658.57,304.98 658.90,304.98 C659.23,304.98 659.57,304.99 659.90,304.99 C660.23,304.99 660.57,304.99 660.90,304.99 C661.23,304.99 661.57,304.99 661.90,304.99 C662.23,304.99 662.57,304.99 662.90,304.99 C663.23,304.99 663.57,304.99 663.90,304.99 C664.23,304.99 664.57,305.00 664.90,305.00 C665.23,305.00 665.57,305.00 665.90,305.00 C666.23,305.00 666.57,304.99 666.90,304.99 C667.23,304.99 667.57,304.99 667.90,304.99 C668.23,304.99 668.73,304.99 668.90,304.99" fill="none" stroke="#e5197d" stroke-width="1.50" stroke-linejoin="round" stroke-linecap="round"/>
<path d="M483.90,344.86 C484.07,344.85 484.57,344.84 484.90,344.83 C485.23,344.82 485.57,344.82 485.90,344.81 C486.23,344.80 486.57,344.79 486.90,344.78 C487.23,344.77 487.57,344.77 487.90,344.76 C488.23,344.75 488.57,344.74 488.90,344.73 C489.23,344.72 489.57,344.71 489.90,344.70 C490.23,344.69 490.57,344.68 490.90,344.67 C491.23,344.66 491.57,344.65 491.90,344.64 C492.23,344.63 492.57,344.62 492.90,344.61 C493.23,344.60 493.57,344.59 493.90,344.58 C494.23,344.57 494.57,344.56 494.90,344.55 C495.23,344.54 495.57,344.52 495.90,344.51 C496.23,344.50 496.57,344.49 496.90,344.48 C497.23,344.46 497.57,344.45 497.90,344.44 C498.23,344.42 498.57,344.41 498.90,344.40 C499.23,344.38 499.57,344.37 499.90,344.35 C500.23,344.34 500.57,344.33 500.90,344.31 C501.23,344.29 501.57,344.28 501.90,344.26 C502.23,344.25 502.57,344.23 502.90,344.21 C503.23,344.19 503.57,344.18 503.90,344.16 C504.23,344.14 504.57,344.12 504.90,344.10 C505.23,344.08 505.57,344.06 505.90,344.04 C506.23,344.02 506.57,343.99 506.90,343.97 C507.23,343.95 507.57,343.92 507.90,343.90 C508.23,343.87 508.57,343.85 508.90,343.82 C509.23,343.80 509.57,343.77 509.90,343.74 C510.23,343.71 510.57,343.68 510.90,343.65 C511.23,343.62 511.57,343.59 511.90,343.55 C512.23,343.52 512.57,343.49 512.90,343.45 C513.23,343.41 513.57,343.38 513.90,343.34 C514.23,343.30 514.57,343.26 514.90,343.22 C515.23,343.18 515.57,343.13 515.90,343.09 C516.23,343.04 516.57,342.99 516.90,342.94 C517.23,342.90 517.57,342.84 517.90,342.79 C518.23,342.74 518.57,342.68 518.90,342.62 C519.23,342.57 519.57,342.51 519.90,342.45 C520.23,342.38 520.57,342.32 520.90,342.25 C521.23,342.18 521.57,342.11 521.90,342.04 C522.23,341.97 522.57,341.89 522.90,341.82 C523.23,341.74 523.57,341.66 523.90,341.57 C524.23,341.49 524.57,341.40 524.90,341.31 C525.23,341.22 525.57,341.12 525.90,341.03 C526.23,340.93 526.57,340.83 526.90,340.72 C527.23,340.62 527.57,340.51 527.90,340.40 C528.23,340.29 528.57,340.17 528.90,340.05 C529.23,339.93 529.57,339.81 529.90,339.68 C530.23,339.55 530.57,339.42 530.90,339.28 C531.23,339.15 531.57,339.00 531.90,338.86 C532.23,338.71 532.57,338.56 532.90,338.41 C533.23,338.25 533.57,338.10 533.90,337.93 C534.23,337.77 534.57,337.60 534.90,337.43 C535.23,337.25 535.57,337.07 535.90,336.89 C536.23,336.71 536.57,336.52 536.90,336.33 C537.23,336.13 537.57,335.93 537.90,335.73 C538.23,335.53 538.57,335.32 538.90,335.11 C539.23,334.89 539.57,334.67 539.90,334.45 C540.23,334.23 540.57,334.00 540.90,333.76 C541.23,333.53 541.57,333.29 541.90,333.05 C542.23,332.81 542.57,332.56 542.90,332.30 C543.23,332.05 543.57,331.79 543.90,331.53 C544.23,331.27 544.57,331.00 544.90,330.73 C545.23,330.45 545.57,330.18 545.90,329.90 C546.23,329.62 546.57,329.33 546.90,329.04 C547.23,328.75 547.57,328.46 547.90,328.16 C548.23,327.86 548.57,327.56 548.90,327.26 C549.23,326.95 549.57,326.64 549.90,326.33 C550.23,326.02 550.57,325.71 550.90,325.39 C551.23,325.07 551.57,324.75 551.90,324.43 C552.23,324.11 552.57,323.79 552.90,323.46 C553.23,323.14 553.57,322.81 553.90,322.48 C554.23,322.15 554.57,321.82 554.90,321.49 C555.23,321.16 555.57,320.83 555.90,320.50 C556.23,320.17 556.57,319.84 556.90,319.51 C557.23,319.18 557.57,318.86 557.90,318.53 C558.23,318.20 558.57,317.88 558.90,317.56 C559.23,317.24 559.57,316.92 559.90,316.60 C560.23,316.29 560.57,315.98 560.90,315.67 C561.23,315.36 561.57,315.06 561.90,314.77 C562.23,314.47 562.57,314.18 562.90,313.90 C563.23,313.62 563.57,313.34 563.90,313.08 C564.23,312.81 564.57,312.56 564.90,312.31 C565.23,312.06 565.57,311.82 565.90,311.60 C566.23,311.37 566.57,311.16 566.90,310.96 C567.23,310.76 567.57,310.57 567.90,310.40 C568.23,310.22 568.57,310.06 568.90,309.92 C569.23,309.77 569.57,309.64 569.90,309.53 C570.23,309.42 570.57,309.32 570.90,309.24 C571.23,309.17 571.57,309.11 571.90,309.06 C572.23,309.02 572.57,309.00 572.90,308.99 C573.23,308.98 573.57,309.00 573.90,309.03 C574.23,309.06 574.57,309.11 574.90,309.18 C575.23,309.25 575.57,309.33 575.90,309.44 C576.23,309.54 576.57,309.67 576.90,309.81 C577.23,309.94 577.57,310.10 577.90,310.27 C578.23,310.45 578.57,310.64 578.90,310.84 C579.23,311.04 579.57,311.26 579.90,311.50 C580.23,311.73 580.57,311.97 580.90,312.23 C581.23,312.49 581.57,312.76 581.90,313.04 C582.23,313.32 582.57,313.61 582.90,313.91 C583.23,314.21 583.57,314.52 583.90,314.83 C584.23,315.15 584.57,315.47 584.90,315.80 C585.23,316.13 585.57,316.47 585.90,316.81 C586.23,317.15 586.57,317.50 586.90,317.84 C587.23,318.19 587.57,318.55 587.90,318.90 C588.23,319.26 588.57,319.62 588.90,319.98 C589.23,320.34 589.57,320.70 589.90,321.06 C590.23,321.42 590.57,321.78 590.90,322.15 C591.23,322.51 591.57,322.87 591.90,323.23 C592.23,323.59 592.57,323.96 592.90,324.31 C593.23,324.67 593.57,325.03 593.90,325.39 C594.23,325.74 594.57,326.09 594.90,326.44 C595.23,326.79 595.57,327.14 595.90,327.49 C596.23,327.83 596.57,328.17 596.90,328.51 C597.23,328.85 597.57,329.18 597.90,329.51 C598.23,329.84 598.57,330.17 598.90,330.49 C599.23,330.81 599.57,331.13 599.90,331.44 C600.23,331.75 600.57,332.06 600.90,332.36 C601.23,332.67 601.57,332.97 601.90,333.26 C602.23,333.55 602.57,333.84 602.90,334.13 C603.23,334.41 603.57,334.69 603.90,334.96 C604.23,335.23 604.57,335.50 604.90,335.76 C605.23,336.03 605.57,336.28 605.90,336.53 C606.23,336.79 606.57,337.03 606.90,337.27 C607.23,337.51 607.57,337.75 607.90,337.98 C608.23,338.21 608.57,338.43 608.90,338.65 C609.23,338.87 609.57,339.08 609.90,339.29 C610.23,339.50 610.57,339.70 610.90,339.90 C611.23,340.09 611.57,340.28 611.90,340.47 C612.23,340.66 612.57,340.84 612.90,341.01 C613.23,341.19 613.57,341.36 613.90,341.53 C614.23,341.69 614.57,341.85 614.90,342.01 C615.23,342.16 615.57,342.32 615.90,342.46 C616.23,342.61 616.57,342.75 616.90,342.89 C617.23,343.02 617.57,343.16 617.90,343.28 C618.23,343.41 618.57,343.54 618.90,343.66 C619.23,343.78 619.57,343.89 619.90,344.00 C620.23,344.11 620.57,344.22 620.90,344.32 C621.23,344.43 621.57,344.53 621.90,344.62 C622.23,344.72 622.57,344.81 622.90,344.90 C623.23,344.99 623.57,345.07 623.90,345.16 C624.23,345.24 624.57,345.32 624.90,345.39 C625.23,345.47 625.57,345.54 625.90,345.61 C626.23,345.68 626.57,345.75 626.90,345.82 C627.23,345.88 627.57,345.94 627.90,346.00 C628.23,346.06 628.57,346.12 628.90,346.17 C629.23,346.23 629.57,346.28 629.90,346.33 C630.23,346.38 630.57,346.43 630.90,346.47 C631.23,346.52 631.57,346.56 631.90,346.61 C632.23,346.65 632.57,346.69 632.90,346.73 C633.23,346.77 633.57,346.80 633.90,346.84 C634.23,346.87 634.57,346.91 634.90,346.94 C635.23,346.97 635.57,347.00 635.90,347.03 C636.23,347.06 636.57,347.09 636.90,347.12 C637.23,347.14 637.57,347.17 637.90,347.19 C638.23,347.22 638.57,347.24 638.90,347.26 C639.23,347.29 639.57,347.31 639.90,347.33 C640.23,347.35 640.57,347.37 640.90,347.39 C641.23,347.40 641.57,347.42 641.90,347.44 C642.23,347.46 642.57,347.47 642.90,347.49 C643.23,347.50 643.57,347.52 643.90,347.53 C644.23,347.55 644.57,347.56 644.90,347.57 C645.23,347.59 645.57,347.60 645.90,347.61 C646.23,347.62 646.57,347.64 646.90,347.65 C647.23,347.66 647.57,347.67 647.90,347.68 C648.23,347.69 648.57,347.70 648.90,347.71 C649.23,347.72 649.57,347.73 649.90,347.74 C650.23,347.74 650.57,347.75 650.90,347.76 C651.23,347.77 651.57,347.78 651.90,347.78 C652.23,347.79 652.57,347.80 652.90,347.80 C653.23,347.81 653.57,347.82 653.90,347.82 C654.23,347.83 654.57,347.84 654.90,347.84 C655.23,347.85 655.57,347.85 655.90,347.86 C656.23,347.86 656.57,347.87 656.90,347.87 C657.23,347.88 657.57,347.88 657.90,347.89 C658.23,347.89 658.57,347.90 658.90,347.90 C659.23,347.91 659.57,347.91 659.90,347.91 C660.23,347.92 660.57,347.92 660.90,347.93 C661.23,347.93 661.57,347.93 661.90,347.94 C662.23,347.94 662.57,347.94 662.90,347.95 C663.23,347.95 663.57,347.95 663.90,347.96 C664.23,347.96 664.57,347.96 664.90,347.97 C665.23,347.97 665.57,347.97 665.90,347.97 C666.23,347.98 666.57,347.98 666.90,347.98 C667.23,347.98 667.57,347.99 667.90,347.99 C668.23,347.99 668.73,348.00 668.90,348.00" fill="none" stroke="#14147a" stroke-width="1.50" stroke-linejoin="round" stroke-linecap="round"/>
</svg>
</body></html>
